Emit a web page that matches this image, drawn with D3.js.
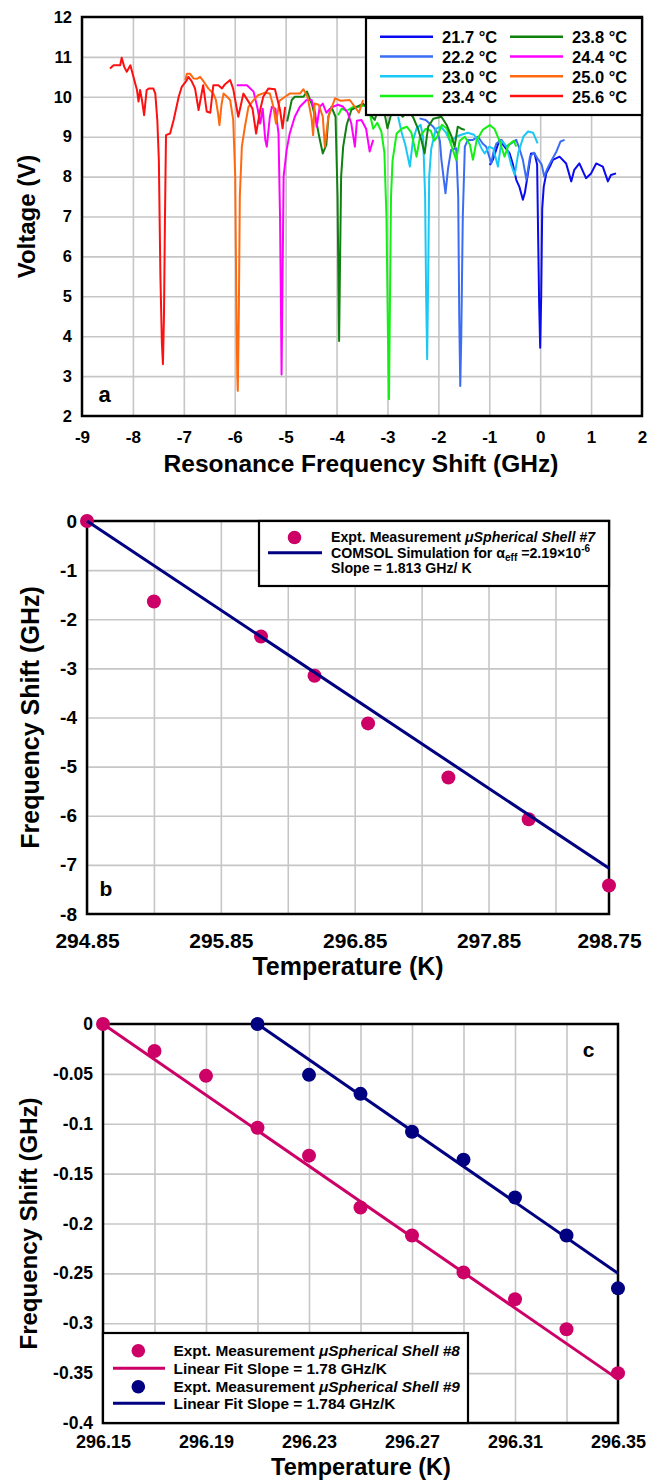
<!DOCTYPE html>
<html>
<head>
<meta charset="utf-8">
<script src="https://cdn.jsdelivr.net/npm/d3@7"></script>
<style>
  body { margin: 0; background: #fff; }
</style>
</head>
<body>
<svg id="chart" width="647" height="1481"></svg>
<script>
// ---- panel a : resonance sweeps, [shift GHz, voltage V] ----
const tempLabels = ["21.7", "22.2", "23.0", "23.4", "23.8", "24.4", "25.0", "25.6"];
const curveColors = ["#0a0af0", "#3a6cf4", "#19c8f5", "#14f014", "#108010", "#ff00ff", "#ff6a10", "#ff1010"];

const sweep217 = [[-0.99,8.29],[-0.93,8.42],[-0.80,8.92],[-0.70,8.75],[-0.60,8.58],[-0.54,8.33],[-0.47,7.92],[-0.41,7.75],[-0.34,7.42],[-0.30,7.6],[-0.24,8.08],[-0.18,8.58],[-0.11,8.58],[-0.06,8.3],[-0.04,6.5],[-0.02,4.8],[0.0,3.71],[0.02,5.0],[0.04,7.2],[0.07,7.75],[0.12,8.08],[0.19,8.25],[0.25,8.42],[0.38,8.5],[0.51,8.33],[0.61,7.88],[0.67,8.17],[0.77,8.33],[0.90,7.96],[1.0,8.08],[1.10,8.33],[1.23,8.25],[1.33,7.88],[1.39,8.04],[1.49,8.08]];
const sweep222 = [[-2.37,9.46],[-2.25,9.42],[-2.1,9.25],[-2.01,9.08],[-1.97,8.9],[-1.94,8.42],[-1.86,7.58],[-1.81,8.2],[-1.75,8.67],[-1.65,8.71],[-1.61,7.5],[-1.59,4.5],[-1.57,2.75],[-1.55,4.0],[-1.52,7.0],[-1.48,8.75],[-1.42,8.92],[-1.32,8.92],[-1.22,9.0],[-1.13,8.83],[-1.06,8.75],[-0.96,8.33],[-0.92,8.6],[-0.86,8.83],[-0.76,8.92],[-0.67,8.75],[-0.57,8.83],[-0.47,8.92],[-0.41,8.71],[-0.34,8.42],[-0.27,7.92],[-0.2,8.5],[-0.12,8.6],[-0.05,8.45],[0.03,8.3],[0.08,8.0],[0.14,8.2],[0.22,8.4],[0.32,8.63],[0.4,8.88],[0.48,8.92]];
const sweep230 = [[-2.79,9.5],[-2.72,9.1],[-2.65,8.8],[-2.56,8.25],[-2.5,8.9],[-2.43,9.2],[-2.35,9.3],[-2.3,9.0],[-2.26,7.5],[-2.24,5.0],[-2.22,3.42],[-2.2,5.5],[-2.18,8.0],[-2.14,8.7],[-2.05,9.2],[-1.95,9.25],[-1.85,9.1],[-1.76,8.85],[-1.7,8.95],[-1.65,9.0],[-1.55,9.05],[-1.42,9.1],[-1.3,9.05],[-1.22,8.9],[-1.15,8.7],[-1.09,8.58],[-1.0,8.75],[-0.92,8.7],[-0.83,8.25],[-0.76,8.9],[-0.66,8.75],[-0.57,8.3],[-0.5,8.04],[-0.43,8.6],[-0.33,9.0],[-0.24,9.13],[-0.14,9.1],[-0.05,8.83]];
const sweep234 = [[-3.97,9.54],[-3.9,9.7],[-3.8,9.65],[-3.67,9.75],[-3.55,9.75],[-3.44,9.79],[-3.35,9.6],[-3.28,9.2],[-3.2,9.35],[-3.12,9.13],[-3.06,8.6],[-3.02,7.0],[-2.99,4.0],[-2.97,2.42],[-2.95,5.0],[-2.93,7.5],[-2.9,8.4],[-2.82,9.08],[-2.72,9.2],[-2.62,9.25],[-2.53,9.1],[-2.47,8.75],[-2.43,8.5],[-2.36,9.0],[-2.25,9.2],[-2.15,9.15],[-2.08,8.9],[-2.02,9.0],[-1.93,9.3],[-1.83,9.2],[-1.75,8.8],[-1.65,8.42],[-1.58,8.9],[-1.48,9.0],[-1.38,8.8],[-1.32,8.42],[-1.25,8.9],[-1.13,9.17],[-0.99,9.29],[-0.9,9.2],[-0.8,8.9],[-0.7,8.5],[-0.62,8.8],[-0.52,8.9],[-0.47,8.75]];
const sweep238 = [[-4.97,9.38],[-4.88,9.92],[-4.82,10.0],[-4.65,10.0],[-4.58,10.13],[-4.48,9.8],[-4.39,9.33],[-4.34,9.0],[-4.27,8.58],[-4.2,8.8],[-4.16,9.5],[-4.1,9.75],[-4.02,9.5],[-3.98,7.5],[-3.96,5.0],[-3.95,3.88],[-3.93,6.0],[-3.91,8.0],[-3.87,8.75],[-3.8,9.3],[-3.71,9.67],[-3.6,9.75],[-3.48,9.83],[-3.38,9.7],[-3.3,9.5],[-3.25,9.42],[-3.17,9.75],[-3.07,9.67],[-3.0,9.21],[-2.92,9.6],[-2.8,9.65],[-2.7,9.5],[-2.6,9.65],[-2.5,9.5],[-2.4,9.2],[-2.33,8.9],[-2.27,8.58],[-2.2,9.25],[-2.1,9.45],[-1.94,9.5],[-1.84,9.3],[-1.74,9.0],[-1.68,8.75],[-1.62,9.25],[-1.55,9.2],[-1.48,9.17]];
const sweep244 = [[-5.96,10.29],[-5.76,10.29],[-5.63,10.13],[-5.55,9.7],[-5.5,9.33],[-5.45,9.7],[-5.4,8.92],[-5.37,8.75],[-5.31,9.5],[-5.27,9.75],[-5.2,9.7],[-5.14,9.08],[-5.11,7.0],[-5.09,4.5],[-5.08,3.04],[-5.06,5.5],[-5.04,8.0],[-4.98,8.67],[-4.92,9.08],[-4.82,9.5],[-4.72,9.75],[-4.59,9.92],[-4.49,9.92],[-4.42,9.6],[-4.39,9.25],[-4.33,9.75],[-4.27,9.83],[-4.2,9.6],[-4.13,9.7],[-4.07,9.75],[-3.97,9.8],[-3.87,9.75],[-3.78,9.6],[-3.71,9.33],[-3.64,8.75],[-3.6,9.4],[-3.51,9.42],[-3.42,9.2],[-3.35,8.63],[-3.28,8.92]];
const sweep250 = [[-6.97,10.42],[-6.94,10.58],[-6.88,10.58],[-6.81,10.46],[-6.74,10.45],[-6.68,10.5],[-6.62,10.4],[-6.52,10.21],[-6.42,10.08],[-6.37,9.92],[-6.33,9.6],[-6.30,9.29],[-6.26,9.8],[-6.22,10.08],[-6.15,10.0],[-6.09,9.92],[-6.03,9.42],[-5.99,8.0],[-5.97,5.0],[-5.95,3.0],[-5.94,2.63],[-5.92,4.5],[-5.90,7.5],[-5.86,8.75],[-5.8,9.25],[-5.73,9.75],[-5.63,9.92],[-5.54,10.04],[-5.42,10.1],[-5.31,10.08],[-5.24,9.75],[-5.19,9.33],[-5.12,9.9],[-5.01,10.0],[-4.92,10.08],[-4.72,10.08],[-4.65,10.19],[-4.57,10.0],[-4.49,9.46],[-4.46,9.04],[-4.43,9.83],[-4.35,9.8],[-4.27,9.5],[-4.23,8.75],[-4.16,9.5],[-4.03,9.96],[-3.92,9.9],[-3.74,9.92],[-3.64,9.75],[-3.56,9.6],[-3.48,9.92]];
const sweep256 = [[-8.45,10.71],[-8.38,10.79],[-8.25,10.79],[-8.22,10.98],[-8.17,10.75],[-8.12,10.63],[-8.05,10.79],[-7.99,10.5],[-7.92,10.17],[-7.89,9.88],[-7.86,10.17],[-7.82,9.9],[-7.78,9.54],[-7.73,10.17],[-7.68,10.21],[-7.6,10.21],[-7.56,10.08],[-7.52,9.4],[-7.49,8.4],[-7.46,5.5],[-7.43,3.8],[-7.41,3.3],[-7.39,4.5],[-7.37,7.0],[-7.35,9.04],[-7.27,9.08],[-7.2,9.42],[-7.1,10.0],[-7.04,10.25],[-6.94,10.42],[-6.91,10.5],[-6.85,10.4],[-6.78,10.21],[-6.71,9.67],[-6.62,10.29],[-6.55,9.63],[-6.48,9.6],[-6.42,10.29],[-6.32,10.29],[-6.25,10.21],[-6.2,10.3],[-6.09,10.42],[-6.03,10.2],[-5.93,9.5],[-5.83,10.08],[-5.73,9.88],[-5.65,9.7],[-5.58,9.08],[-5.5,9.67],[-5.44,10.0],[-5.34,10.21],[-5.21,10.19],[-5.11,9.67],[-5.06,9.21],[-5.01,9.75]];
const sweeps = [sweep217, sweep222, sweep230, sweep234, sweep238, sweep244, sweep250, sweep256];

// ---- panel b : shell #7 ----
const tempsB = [294.85, 295.35, 296.15, 296.55, 296.95, 297.55, 298.15, 298.75];
const shiftB = [0, -1.64, -2.35, -3.15, -4.12, -5.22, -6.07, -7.42];
const simT = [294.85, 298.75];
const simShift = [0, -7.07];
const xTicksB = [294.85, 295.85, 296.85, 297.85, 298.75];

// ---- panel c : shells #8 and #9 ----
const tempsC8 = [296.15, 296.17, 296.19, 296.21, 296.23, 296.25, 296.27, 296.29, 296.31, 296.33, 296.35];
const shiftC8 = [0, -0.027, -0.052, -0.104, -0.132, -0.184, -0.212, -0.249, -0.276, -0.306, -0.350];
const tempsC9 = [296.21, 296.23, 296.25, 296.27, 296.29, 296.31, 296.33, 296.35];
const shiftC9 = [0, -0.051, -0.070, -0.108, -0.136, -0.174, -0.212, -0.265];
const fit8T = [296.15, 296.35], fit8Shift = [0, -0.356];
const fit9T = [296.21, 296.35], fit9Shift = [0, -0.250];
const xTicksC = [296.15, 296.19, 296.23, 296.27, 296.31, 296.35];

const FONT = "'Liberation Sans', Arial, Helvetica, sans-serif";
const PINK = "#cc0066", NAVY = "#000080";

const svg = d3.select("#chart");
svg.append("rect").attr("width", 647).attr("height", 1481).attr("fill", "#fff");

function addText(x, y, str, size, anchor) {
    return svg.append("text")
        .attr("x", x).attr("y", y)
        .attr("font-family", FONT).attr("font-weight", "bold")
        .attr("font-size", size)
        .attr("text-anchor", anchor || "middle")
        .text(str);
}

function gridFrame(box, x, y, xVals, yVals) {
    const g = svg.append("g");
    g.append("g").attr("transform", `translate(0,${box.bottom})`)
        .call(d3.axisBottom(x).tickValues(xVals).tickSize(-(box.bottom - box.top)).tickFormat(""));
    g.append("g").attr("transform", `translate(${box.left},0)`)
        .call(d3.axisLeft(y).tickValues(yVals).tickSize(-(box.right - box.left)).tickFormat(""));
    g.selectAll(".domain").remove();
    g.selectAll("line").attr("stroke", "#c6c6c6").attr("stroke-width", 1.6);
    svg.append("rect")
        .attr("x", box.left).attr("y", box.top)
        .attr("width", box.right - box.left).attr("height", box.bottom - box.top)
        .attr("fill", "none").attr("stroke", "#000").attr("stroke-width", 2.5);
}

function tickLabels(box, x, y, xVals, yVals, fmtX, fmtY, sx, sy, padX) {
    const gx = svg.append("g").attr("transform", `translate(0,${box.bottom})`)
        .call(d3.axisBottom(x).tickValues(xVals).tickSize(0).tickPadding(padX).tickFormat(fmtX));
    const gy = svg.append("g").attr("transform", `translate(${box.left},0)`)
        .call(d3.axisLeft(y).tickValues(yVals).tickSize(0).tickPadding(10).tickFormat(fmtY));
    [gx, gy].forEach(g => g.select(".domain").remove());
    gx.selectAll("text").attr("font-size", sx);
    gy.selectAll("text").attr("font-size", sy);
    [gx, gy].forEach(g => g.selectAll("text")
        .attr("font-family", FONT).attr("font-weight", "bold").attr("fill", "#000"));
}

function yTitle(cx, cy, str, size) {
    svg.append("text")
        .attr("transform", `translate(${cx},${cy}) rotate(-90)`)
        .attr("font-family", FONT).attr("font-weight", "bold")
        .attr("font-size", size).attr("text-anchor", "middle")
        .text(str);
}

// ================= panel a =================
const boxA = { left: 82, right: 642, top: 17, bottom: 416 };
const xA = d3.scaleLinear().domain([-9, 2]).range([boxA.left, boxA.right]);
const yA = d3.scaleLinear().domain([2, 12]).range([boxA.bottom, boxA.top]);
gridFrame(boxA, xA, yA, d3.range(-8, 2), d3.range(3, 12));
tickLabels(boxA, xA, yA, d3.range(-9, 3), d3.range(2, 13), d => String(d), d => String(d), 17, 16.5, 15);

const lineA = d3.line().x(d => xA(d[0])).y(d => yA(d[1]));
sweeps.forEach((s, i) => {
    svg.append("path").datum(s)
        .attr("d", lineA)
        .attr("fill", "none")
        .attr("stroke", curveColors[i])
        .attr("stroke-width", 2)
        .attr("stroke-linejoin", "round");
});

// legend a
svg.append("rect").attr("x", 366).attr("y", 18).attr("width", 276).attr("height", 97)
    .attr("fill", "#fff").attr("stroke", "#000").attr("stroke-width", 2.2);
tempLabels.forEach((t, i) => {
    const col = Math.floor(i / 4), row = i % 4;
    const lx = col === 0 ? 380 : 510;
    const ly = 36.7 + row * 19.8;
    svg.append("line").attr("x1", lx).attr("x2", lx + 53).attr("y1", ly).attr("y2", ly)
        .attr("stroke", curveColors[i]).attr("stroke-width", 2.5);
    addText(lx + 62, ly + 6.5, `${t} °C`, 16.5, "start");
});

addText(104.5, 402, "a", 22);
yTitle(35, 216.5, "Voltage (V)", 24);
addText(361, 472, "Resonance Frequency Shift (GHz)", 24.5);

// ================= panel b =================
const boxB = { left: 87, right: 609, top: 521, bottom: 914 };
const xB = d3.scaleLinear().domain([294.85, 298.75]).range([boxB.left, boxB.right]);
const yB = d3.scaleLinear().domain([-8, 0]).range([boxB.bottom, boxB.top]);
gridFrame(boxB, xB, yB, d3.range(294.85, 298.75, 0.5), d3.range(-7, 0));
tickLabels(boxB, xB, yB, xTicksB, d3.range(-8, 1), d => d.toFixed(2), d => String(d), 21, 19, 19);

svg.append("g").selectAll("circle")
    .data(tempsB.map((t, i) => [t, shiftB[i]]))
    .join("circle")
    .attr("cx", d => xB(d[0])).attr("cy", d => yB(d[1]))
    .attr("r", 7).attr("fill", PINK);

svg.append("path").datum(simT.map((t, i) => [t, simShift[i]]))
    .attr("d", d3.line().x(d => xB(d[0])).y(d => yB(d[1])))
    .attr("fill", "none").attr("stroke", NAVY).attr("stroke-width", 3);

// legend b
svg.append("rect").attr("x", 259).attr("y", 521).attr("width", 350).attr("height", 65)
    .attr("fill", "#fff").attr("stroke", "#000").attr("stroke-width", 2.2);
svg.append("circle").attr("cx", 294.5).attr("cy", 537.5).attr("r", 6.8).attr("fill", PINK);
svg.append("line").attr("x1", 268).attr("x2", 322).attr("y1", 552.7).attr("y2", 552.7)
    .attr("stroke", NAVY).attr("stroke-width", 3);
const lb1 = addText(331, 542, "Expt. Measurement ", 14.2, "start");
lb1.append("tspan").attr("font-style", "italic").text("\u03bcSpherical Shell #7");
const lb2 = addText(331, 558, "COMSOL Simulation for \u03b1", 14.2, "start");
lb2.append("tspan").attr("font-size", 10).attr("dy", 3).text("eff");
lb2.append("tspan").attr("dy", -3).text(" =2.19\u00d710");
lb2.append("tspan").attr("font-size", 10).attr("dy", -6).text("-6");
addText(331, 573, "Slope = 1.813 GHz/ K", 14.2, "start");

addText(106, 896, "b", 21);
yTitle(39, 717.5, "Frequency Shift (GHz)", 25);
addText(348, 975, "Temperature (K)", 25);

// ================= panel c =================
const boxC = { left: 103, right: 618, top: 1024, bottom: 1423 };
const xC = d3.scaleLinear().domain([296.15, 296.35]).range([boxC.left, boxC.right]);
const yC = d3.scaleLinear().domain([-0.4, 0]).range([boxC.bottom, boxC.top]);
gridFrame(boxC, xC, yC, d3.range(1, 10).map(k => 296.15 + k * 0.02), d3.range(1, 8).map(k => -0.4 + k * 0.05));
const yTicksC = d3.range(0, 9).map(k => +(-0.4 + k * 0.05).toFixed(2));
tickLabels(boxC, xC, yC, xTicksC, yTicksC, d => d.toFixed(2), d => String(d), 18, 17.5, 12);

const lineC = d3.line().x(d => xC(d[0])).y(d => yC(d[1]));
svg.append("g").selectAll("circle")
    .data(tempsC8.map((t, i) => [t, shiftC8[i]]))
    .join("circle")
    .attr("cx", d => xC(d[0])).attr("cy", d => yC(d[1]))
    .attr("r", 7).attr("fill", PINK);
svg.append("g").selectAll("circle")
    .data(tempsC9.map((t, i) => [t, shiftC9[i]]))
    .join("circle")
    .attr("cx", d => xC(d[0])).attr("cy", d => yC(d[1]))
    .attr("r", 7).attr("fill", NAVY);
svg.append("path").datum(fit8T.map((t, i) => [t, fit8Shift[i]]))
    .attr("d", lineC).attr("fill", "none").attr("stroke", PINK).attr("stroke-width", 3);
svg.append("path").datum(fit9T.map((t, i) => [t, fit9Shift[i]]))
    .attr("d", lineC).attr("fill", "none").attr("stroke", NAVY).attr("stroke-width", 3);

// legend c
svg.append("rect").attr("x", 103).attr("y", 1333).attr("width", 365).attr("height", 90)
    .attr("fill", "#fff").attr("stroke", "#000").attr("stroke-width", 2.2);
const legC = [
    { kind: "dot", color: PINK, y: 1350.7, text: "Expt. Measurement ", ital: "\u03bcSpherical Shell #8" },
    { kind: "line", color: PINK, y: 1368.3, text: "Linear Fit Slope = 1.78 GHz/K" },
    { kind: "dot", color: NAVY, y: 1386.7, text: "Expt. Measurement ", ital: "\u03bcSpherical Shell #9" },
    { kind: "line", color: NAVY, y: 1403.3, text: "Linear Fit Slope = 1.784 GHz/K" }
];
legC.forEach(e => {
    if (e.kind === "dot") {
        svg.append("circle").attr("cx", 138.3).attr("cy", e.y).attr("r", 6.8).attr("fill", e.color);
    } else {
        svg.append("line").attr("x1", 113).attr("x2", 165).attr("y1", e.y).attr("y2", e.y)
            .attr("stroke", e.color).attr("stroke-width", 3);
    }
    const t = addText(173.5, e.y + 5.5, e.text, 15.4, "start");
    if (e.ital) t.append("tspan").attr("font-style", "italic").text(e.ital);
});

addText(588.7, 1057, "c", 21);
yTitle(37, 1223.5, "Frequency Shift (GHz)", 24);
addText(361, 1475, "Temperature (K)", 23.5);
</script>
</body>
</html>
